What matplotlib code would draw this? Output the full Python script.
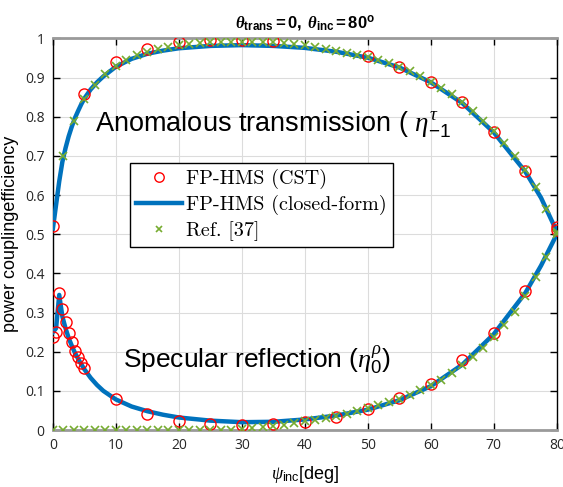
"""Power coupling efficiency of the FP-HMS versus incidence angle."""

import numpy as np
import matplotlib
matplotlib.use('Agg')
import matplotlib.pyplot as plt
from matplotlib.ticker import FormatStrFormatter

plt.rcParams['mathtext.fontset'] = 'custom'
plt.rcParams['mathtext.rm'] = 'Liberation Sans'
plt.rcParams['mathtext.it'] = 'Liberation Serif:italic'
plt.rcParams['mathtext.bf'] = 'Liberation Sans:bold'
plt.rcParams['mathtext.bfit'] = 'Liberation Serif:italic:bold'
plt.rcParams['mathtext.sf'] = 'Liberation Sans'

# FP-HMS (CST) - anomalous transmission
cst_trans_x = [0, 5, 10, 15, 20, 25, 30, 35, 50, 55, 60, 65, 70, 75, 80]
cst_trans_y = [0.52, 0.858, 0.939, 0.973, 0.99, 0.997, 0.996, 0.994,
               0.955, 0.928, 0.89, 0.838, 0.762, 0.662, 0.518]

# FP-HMS (CST) - specular reflection
cst_refl_x = [0, 0.5, 1, 1.5, 2, 2.5, 3, 3.5, 4, 4.5, 5, 10, 15, 20, 25,
              30, 35, 40, 45, 50, 55, 60, 65, 70, 75, 80]
cst_refl_y = [0.238, 0.25, 0.35, 0.31, 0.277, 0.248, 0.226, 0.203, 0.187,
              0.172, 0.159, 0.08, 0.041, 0.024, 0.015, 0.013, 0.015, 0.021,
              0.033, 0.054, 0.082, 0.118, 0.18, 0.248, 0.354, 0.512]

# FP-HMS (closed-form)
cf_x = [0, 0.5, 1, 1.5, 2, 2.5, 3, 3.5, 4, 4.5, 5, 6, 7, 8, 10, 12.5, 15,
        17.5, 20, 25, 30, 35, 40, 45, 50, 55, 60, 65, 70, 75, 77.5, 80]
cf_trans = [0.515, 0.575, 0.635, 0.685, 0.72, 0.75, 0.775, 0.797, 0.815,
            0.832, 0.847, 0.87, 0.888, 0.903, 0.928, 0.948, 0.961, 0.969,
            0.975, 0.981, 0.983, 0.981, 0.976, 0.966, 0.951, 0.926, 0.888,
            0.835, 0.76, 0.66, 0.593, 0.507]
cf_refl = [0.25, 0.26, 0.345, 0.29, 0.26, 0.235, 0.215, 0.197, 0.182,
           0.168, 0.155, 0.133, 0.115, 0.1, 0.078, 0.06, 0.048, 0.039,
           0.032, 0.024, 0.02, 0.021, 0.027, 0.037, 0.052, 0.076, 0.112,
           0.167, 0.245, 0.35, 0.42, 0.5]

# Ref. [37]
ref_x = np.linspace(0, 80, 49)
ref_trans = [0.700, 0.790, 0.845, 0.882, 0.910, 0.930, 0.945, 0.957, 0.966,
             0.973, 0.979, 0.983, 0.986, 0.988, 0.990, 0.991, 0.992, 0.992,
             0.992, 0.991, 0.990, 0.989, 0.986, 0.983, 0.979, 0.974, 0.969,
             0.963, 0.958, 0.953, 0.945, 0.937, 0.928, 0.916, 0.904, 0.890,
             0.874, 0.857, 0.838, 0.815, 0.790, 0.763, 0.733, 0.700, 0.663,
             0.620, 0.565, 0.505]
ref_refl = [0] * 18 + [0.003, 0.005, 0.008, 0.011, 0.014, 0.018, 0.022,
                       0.026, 0.031, 0.036, 0.042, 0.049, 0.056, 0.063,
                       0.071, 0.08, 0.09, 0.102, 0.115, 0.129, 0.146, 0.165,
                       0.186, 0.21, 0.238, 0.268, 0.302, 0.342, 0.39, 0.443,
                       0.5]

red = '#ff0000'
blue = '#0072bd'
green = '#77ac30'

fig = plt.figure(figsize=(5.63, 4.87), dpi=100)
ax = fig.add_axes([0.094, 0.117, 0.895, 0.804])

# closed-form curves first, markers on top
ax.plot(cf_x, cf_trans, color=blue, lw=3.2, zorder=3,
        label='FP-HMS (closed-form)')
ax.plot(cf_x, cf_refl, color=blue, lw=3.2, zorder=3)

ax.plot(cst_trans_x, cst_trans_y, 'o', mfc='none', mec=red, ms=8, mew=1.0,
        zorder=4, label='FP-HMS (CST)')
ax.plot(cst_refl_x, cst_refl_y, 'o', mfc='none', mec=red, ms=8, mew=1.0,
        zorder=4)

ax.plot(ref_x[1:], ref_trans, 'x', color=green, ms=5.5, mew=1.2, zorder=5,
        label='Ref. [37]')
ax.plot(ref_x, ref_refl, 'x', color=green, ms=5.5, mew=1.2, zorder=5)

ax.set_xlim(0, 80)
ax.set_ylim(0, 1)
ax.set_xticks(np.arange(0, 81, 10))
ax.set_yticks(np.arange(0, 1.01, 0.1))
ax.yaxis.set_major_formatter(FormatStrFormatter('%g'))
ax.grid(True, color='#dcdcdc', lw=0.8)
ax.set_axisbelow(True)
ax.tick_params(direction='in', top=True, right=True, length=5, width=1,
               labelsize=10, pad=6)
for lab in ax.get_xticklabels() + ax.get_yticklabels():
    lab.set_family('Open Sans')
    lab.set_color('#262626')

for side in ['top', 'bottom']:
    ax.spines[side].set_color('#9a9a9a')
    ax.spines[side].set_linewidth(2)
for side in ['left', 'right']:
    ax.spines[side].set_color('k')
    ax.spines[side].set_linewidth(1)

ax.set_title(r'$\mathbfit{\theta}_{\mathbf{trans}}\mathbf{=0,}\ '
             r'\mathbfit{\theta}_{\mathbf{inc}}\mathbf{=80^o}$',
             fontsize=12, pad=8)
ax.set_xlabel(r'$\psi_{\mathrm{inc}}$[deg]', fontsize=13,
              family='Liberation Sans', labelpad=8)
ax.set_ylabel('power couplingefficiency', fontsize=13,
              family='Liberation Sans', labelpad=4)

ax.text(6.67, 0.762, r'Anomalous transmission ( $\eta^{\tau}_{-1}$',
        fontsize=19.5, family='Liberation Sans', va='baseline', zorder=6)
ax.text(11.1, 0.159, r'Specular reflection ($\eta^{\rho}_{0}$)',
        fontsize=19, family='Liberation Sans', va='baseline', zorder=6)

# legend order: CST, closed-form, Ref.
handles, labels = ax.get_legend_handles_labels()
order = [1, 0, 2]
leg = ax.legend([handles[i] for i in order], [labels[i] for i in order],
                loc='upper left', bbox_to_anchor=(0.153, 0.682),
                prop={'family': 'cmr10', 'size': 14.5}, fancybox=False,
                edgecolor='k', framealpha=1, borderpad=0.3,
                labelspacing=0.3, handlelength=2.3, handletextpad=0.2,
                borderaxespad=0, markerscale=0.85)
leg.get_frame().set_linewidth(1)
leg.set_zorder(7)

fig.savefig('out.png', dpi=100)
plt.close(fig)
